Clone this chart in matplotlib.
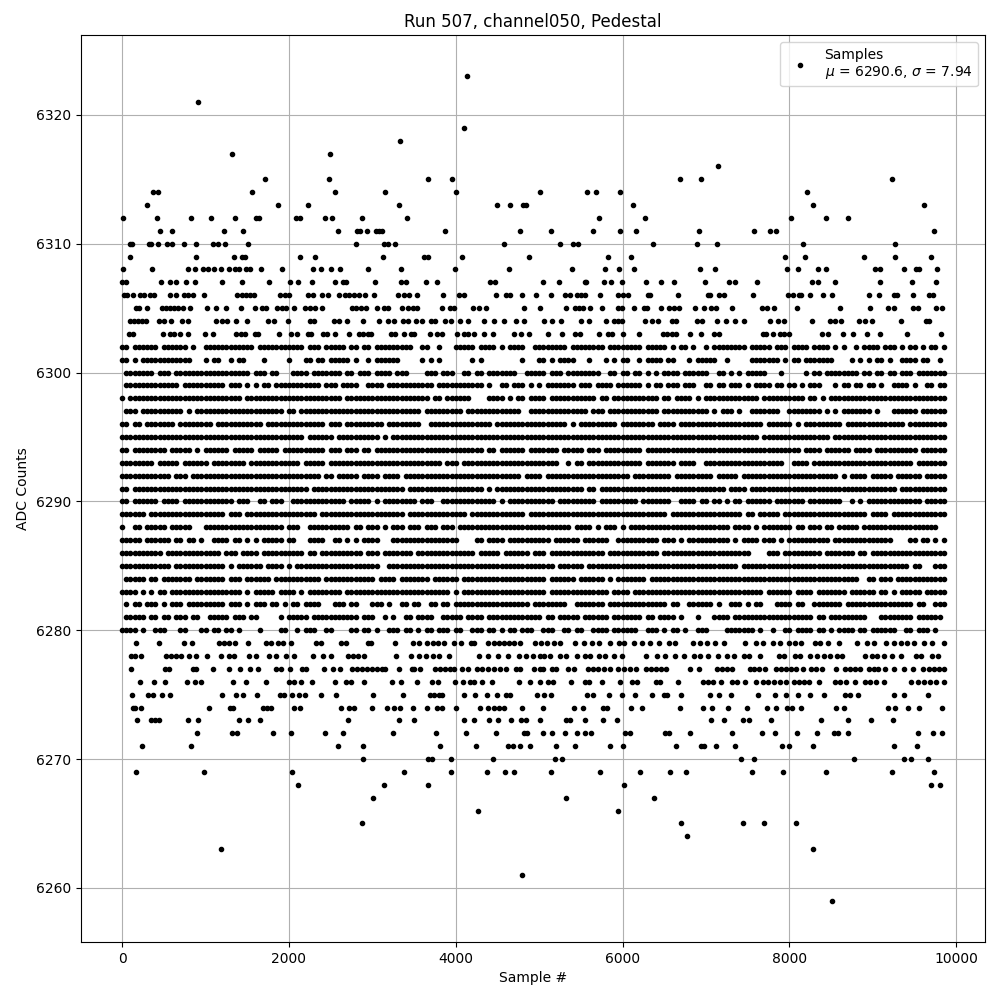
import numpy as np
import matplotlib
matplotlib.use("Agg")
import matplotlib.pyplot as plt

# sparse ADC levels: sample numbers
level_6323 = [4140]
level_6321 = [912]
level_6319 = [4104]
level_6318 = [3336]
level_6317 = [1320, 2496]
level_6316 = [7140]
level_6315 = [1716, 2484, 3672, 3960, 6684, 6936, 9228]
level_6314 = [372, 432, 1560, 2556, 3156, 4008, 5004, 5568, 5676, 5964, 8208]
level_6313 = [300, 1872, 2232, 3324, 4500, 4656, 4812, 4848, 6120, 8280, 9612]
level_6312 = [12, 420, 828, 1068, 1356, 1608, 1644, 2088, 2136, 2436, 2520, 2880, 3420, 5712, 6264, 8016, 8436, 8700]
level_6311 = [456, 600, 1224, 1452, 2592, 2820, 2856, 2940, 3048, 3084, 3120, 3876, 4776, 5136, 5640, 5964, 6156, 6912, 7572, 7764, 7836, 9732]
level_6310 = [96, 120, 324, 348, 432, 540, 600, 744, 888, 1092, 1152, 1236, 1512, 2808, 3144, 3184, 3272, 4584, 5244, 5400, 5460, 6360, 6888, 7128, 8160, 9264]
level_6309 = [96, 888, 1344, 1440, 1476, 2136, 2316, 3132, 3624, 3672, 4080, 4884, 5820, 6096, 7944, 8184, 8892, 9264, 9696]
level_6308 = [12, 360, 792, 876, 972, 1032, 1104, 1188, 1284, 1356, 1404, 1488, 1536, 1668, 1920, 2292, 2388, 2508, 2616, 2952, 3348, 3996, 4644,
              5388, 5784, 5952, 6132, 6924, 7104, 7968, 8100, 8340, 8436, 9024, 9084, 9372, 9516, 9552, 9768]
level_6307 = [0, 48, 468, 576, 648, 768, 876, 1200, 1440, 1764, 2016, 2112, 2280, 2556, 2652, 2688, 3036, 3348, 3404, 3648, 3780, 4416, 4476,
              5040, 5232, 5544, 5564, 5772, 5856, 5988, 6276, 6456, 6612, 6984, 7272, 7344, 7608, 8268, 8340, 8544, 9084, 9468, 9756]
level_6306 = [24, 64, 136, 216, 264, 336, 384, 576, 648, 744, 792, 852, 984, 1380, 1440, 1488, 1536, 1584, 1896, 1956, 2004, 2224, 2292, 2400, 2464,
              2604, 2676, 2724, 2784, 2844, 2916, 3024, 3312, 3384, 3444, 3532, 3852, 4044, 4104, 4488, 4608, 4656, 4796, 4956,
              5136, 5304, 5364, 5448, 5496, 5544, 5724, 5940, 6000, 6060, 6300, 6324, 6660, 7020, 7044, 7152, 7212, 7560, 7980, 8040, 8112, 8136,
              8244, 8400, 8508, 8952, 9072, 9252, 9292, 9480, 9672, 9720]
level_6305 = [164, 204, 300, 480, 528, 576, 624, 672, 732, 816, 1020, 1128, 1248, 1428, 1596, 1680, 1728, 1860, 1920, 1968, 2064, 2196, 2256, 2316, 2400,
              2760, 2808, 2868, 2928, 3060, 3144, 3184, 3360, 3432, 3492, 3540, 3840, 3936, 3984, 4212, 4284, 4368, 4824, 5004,
              5316, 5424, 5472, 5520, 5604, 5748, 5940, 5988, 6132, 6252, 6288, 6456, 6552, 6612, 6672, 6864, 6972, 7056, 7116, 7308, 7668, 7728, 7812,
              8088, 8604, 8964, 9180, 9252, 9480, 9540, 9756, 9828]
level_6304 = [96, 144, 192, 240, 288, 444, 504, 588, 720, 792, 1128, 1200, 1256, 1368, 1500, 1752, 1824, 1992, 2256, 2304, 2544, 2604, 2700, 2892,
              3084, 3192, 3264, 3372, 3424, 3528, 3600, 3708, 3756, 3876, 3948, 4056, 4152, 4344, 4464, 4584, 4728, 4824,
              5052, 5148, 5256, 5496, 5592, 5796, 5892, 5940, 5988, 6264, 6348, 6420, 6588, 6636, 6888, 6948, 7128, 7236, 7344, 7452, 7764, 7860, 7932,
              8268, 8484, 8544, 8616, 8832, 8904, 8988, 9336, 9636, 9672]
level_6303 = [84, 132, 492, 576, 624, 696, 792, 996, 1092, 1368, 1428, 1476, 1596, 1632, 1884, 2028, 2100, 2224, 2268, 2412, 2460, 2556, 2724, 2844, 2892,
              2952, 2988, 3228, 3276, 3384, 3468, 3504, 3696, 3780, 3840, 4020, 4104, 4152, 4224, 4344, 4452, 4704, 4788, 4884,
              5100, 5268, 5424, 5484, 5712, 5820, 5868, 6000, 6192, 6480, 6528, 6588, 6636, 6804, 6936, 7092, 7152, 7680, 7716, 7800, 7884, 7932, 7992,
              8388, 8460, 8640, 8760, 8928, 9084, 9408, 9816]
level_6279 = [168, 444, 744, 844, 1164, 1224, 1284, 1356, 1504, 1724, 1784, 1864, 1932, 2028, 2324, 2384, 2624, 2684, 2944, 2984, 3276, 3484, 3564, 3652,
              3724, 3784, 3864, 3984, 4064, 4184, 4224, 4384, 4464, 4524, 4584, 4644, 4704, 4776, 4944, 5024,
              5092, 5172, 5252, 5424, 5532, 5632, 5712, 5844, 5952, 6012, 6132, 6232, 6332, 6432, 6552, 6632, 6840, 6932, 7012, 7112, 7212, 7464, 7596,
              7680, 7800, 7884, 7992, 8064, 8136, 8312, 8372, 8460, 8592, 8808, 8928, 9012, 9152, 9252, 9332, 9412, 9492, 9612, 9708, 9852]
level_6278 = [104, 152, 224, 524, 584, 644, 704, 804, 888, 1020, 1188, 1284, 1344, 1524, 1604, 1764, 1844, 1964, 2064, 2292, 2404, 2504, 2704, 2764, 2824, 2904,
              3284, 3464, 3564, 3644, 3724, 3804, 3924, 4284, 4384, 4512, 4632, 4764, 4844, 4924, 5004,
              5052, 5132, 5244, 5324, 5452, 5552, 5612, 5712, 5792, 5892, 5992, 6276, 6412, 6512, 6632, 6732, 6852, 6932, 7020, 7140, 7252, 7332, 7452, 7512, 7644,
              7872, 7932, 8072, 8132, 8252, 8332, 8412, 8492, 8572, 8632, 8912, 8992, 9052, 9132, 9232, 9332, 9512, 9580, 9712, 9780]
level_6277 = [108, 516, 564, 852, 888, 1092, 1284, 1416, 1536, 1632, 1848, 1908, 2016, 2160, 2208, 2424, 2532, 2616, 2760, 2820, 2880, 2940, 3000, 3060, 3120, 3156,
              3324, 3480, 3504, 3576, 3756, 3816, 3876, 3936, 3984, 4080, 4152, 4260, 4320, 4392, 4464, 4536, 4608, 4728, 4776, 4932, 5004,
              5040, 5148, 5196, 5340, 5412, 5580, 5640, 5700, 5772, 5844, 5940, 6012, 6084, 6156, 6276, 6336, 6396, 6456, 6516, 6804, 6912, 7128, 7188, 7248, 7308,
              7524, 7572, 7632, 7704, 7836, 7896, 7956, 8016, 8076, 8160, 8256, 8316, 8388, 8556, 8664, 8724, 8784, 8844, 8952, 9012, 9060, 9144, 9252, 9372, 9480,
              9600, 9672, 9732, 9792, 9852]
level_6276 = [216, 384, 516, 780, 876, 948, 1332, 1488, 1728, 2004, 2064, 2148, 2280, 2556, 2688, 2748, 2904, 3240, 3348, 3540, 3720, 3792, 3996, 4092, 4176, 4224,
              4320, 4440, 4764, 4896, 5004, 5100, 5160, 5376, 5544, 5592, 5748, 5964, 6108, 6168, 6396, 6444, 6660, 6960, 7020, 7080, 7176, 7308, 7368, 7464, 7596,
              7680, 7740, 7812, 7884, 7956, 8052, 8112, 8172, 8232, 8352, 8544, 8604, 8676, 8784, 8904, 8964, 9036, 9132, 9456, 9540, 9612, 9684, 9756, 9852]
level_6275 = [120, 312, 372, 480, 576, 1200, 1368, 1452, 1620, 1896, 1944, 2040, 2124, 2196, 2388, 2568, 3012, 3372, 3696, 3744, 3804, 3840, 4104, 4236, 4380, 4496,
              4608, 4656, 4968, 5052, 5136, 5568, 5640, 5832, 5988, 6144, 6348, 6492, 6528, 6696, 7044, 7152, 7296, 7620, 7824, 7956, 8100, 8244, 8412, 8664, 8724,
              8820, 9252, 9372, 9660]
level_6274 = [132, 156, 228, 1044, 1296, 1332, 1692, 1740, 1788, 2064, 2136, 2628, 2724, 2784, 3000, 3180, 3264, 3336, 3492, 3660, 3780, 3840, 4008, 4296, 4392,
              4464, 4524, 4584, 4800, 5040, 5412, 5520, 5760, 5808, 6096, 6228, 6684, 6960, 7068, 7260, 7488, 7728, 7836, 7968, 8028, 8136, 8556, 8652, 9180, 9264,
              9420, 9552, 9828]
level_6273 = [180, 348, 396, 444, 792, 912, 1404, 1512, 1656, 2712, 3324, 3504, 4104, 4224, 4404, 4512, 4668, 4788, 4848, 5004, 5316, 5364, 5544, 5760, 5928,
              7056, 7212, 7440, 7512, 7776, 8376, 8700, 8976, 9240]
level_6272 = [900, 1320, 1380, 1812, 2028, 2436, 2652, 3252, 3768, 4128, 4488, 4824, 4860, 5040, 5148, 5304, 5448, 5544, 5616, 6024, 6084, 6504, 6552, 6804,
              7308, 7668, 7824, 8088, 8328, 8532, 8580, 8700, 9540, 9720, 9828]
level_6271 = [240, 828, 2592, 2892, 3816, 4248, 4632, 4692, 4776, 4896, 5196, 5424, 5844, 6000, 6636, 6936, 6972, 7116, 7344, 7908, 7992, 8280, 9252, 9528]
level_6270 = [2892, 3672, 3720, 3948, 4452, 5184, 5268, 7416, 7572, 8772, 9372, 9456, 9660]
level_6269 = [168, 984, 2040, 3384, 3948, 4380, 4596, 4704, 5136, 5724, 6204, 6564, 6756, 7548, 7920, 8436, 9228, 9732]
level_6268 = [2112, 3144, 3672, 6012, 9696, 9804]
level_6267 = [3012, 5316, 6372]
level_6266 = [4272, 5940]
level_6265 = [2880, 6696, 7440, 7692, 8076]
level_6264 = [6768]
level_6263 = [1188, 8280]
level_6261 = [4800]
level_6259 = [8508]

sparse_levels = [
    (6323, level_6323), (6321, level_6321), (6319, level_6319), (6318, level_6318), (6317, level_6317),
    (6316, level_6316), (6315, level_6315), (6314, level_6314), (6313, level_6313), (6312, level_6312),
    (6311, level_6311), (6310, level_6310), (6309, level_6309), (6308, level_6308), (6307, level_6307),
    (6306, level_6306), (6305, level_6305), (6304, level_6304), (6303, level_6303), (6279, level_6279),
    (6278, level_6278), (6277, level_6277), (6276, level_6276), (6275, level_6275), (6274, level_6274),
    (6273, level_6273), (6272, level_6272), (6271, level_6271), (6270, level_6270), (6269, level_6269),
    (6268, level_6268), (6267, level_6267), (6266, level_6266), (6265, level_6265), (6264, level_6264),
    (6263, level_6263), (6261, level_6261), (6259, level_6259),
]

# dense levels: one group per 1000 samples, one character per 50 samples, # = a dot seen there
row_6302 = "##.######.######.#.. ############.####### ####.###.#####.##.## .#########..##..#... #####.####.#.####..# #######.########.### #####.#####.#.##.#.. #.########.#####.### .####.####.#.#..#.## ##.###.#.##.#.##.#"
row_6301 = "##.#.############... #.##..#.##....#..... #...##.##.#####.#..# .######.....#.#.#... ....#.#.........#... ##.#.####...#...#.#. ##..#.####.##...#.## ###..#.....#######.# .##.#######....#.#.# .##.#..####.##..#"
row_6300 = ".#######.###.####### ###########.###.##.. .####.#######.##.### .####.###....###.### ..##.##.#######..### ##.###.########..##. ##.##.#.#.####.##### #..##.#.#.#####...#. ....#.##.########.## .##.##.###.#######"
row_6299 = ".#############.##### #####.###.#.#.##.### ########.###.####..# ###.###########.#### #######.#..##.###.#. #.#######.###.####.# #####.#.##.###.###.. ##.##.###.#.####.##. ##.#.###...#.##.##.# #.#..####.#..##.##"
row_6298 = "#.################## #########.########## #############.###### ##############.##.## ####....####.#.##.## ##.###########.##.## #########.##.####.#. #############.###### ####.##.#.########## ##################"
row_6297 = ".###.##########.#.## ###################. ##.################# ############.####### ##.#############..## ############.###.### #########.########## #.#.###.#..#######.. ########.#.#.####### .#...######.######"
row_6296 = "##.##.#######.###### ##.###########.##### #########.###.###### ###.########..###### #########.########## #######.#.#########. ########.####.###### ##############.##### #.#.#########.###### ########.#########"
row_6295 = "#################### #################### ####.######.######## ##.#.############### #################### #################### #################### #############.###### ##########.######### ##################"
row_6294 = "##.########.#####.#. ######.#####.#####.# #########.###.###.## .################### #######.##.######.## #####.#####.###.#### #####.############## #################### ###.####.######.#### .##########.######"
row_6293 = "########.#####.##### #.########.######### ###.#####.########## #################.## #.################## #####..#.##.######## #####.#######.####.. ###################. .####.############## ##########.#######"
row_6292 = "############.###.### #################### ########.##.#####.## ##.####.############ ################.### #.################## ##.#########.####### ##.#####.########### ############.#.####. #####.######.#####"
row_6291 = "##.################# #################### #####.############## ########.########### #######.#.########## ###########.##.##### #################### #####.####.######### #################### ######.###########"
row_6290 = "##.######.####.##### #######.###..##.###. .#############.##### .#.########.###..### ##########.#.####### ####.#########.##### ####.#######..####.# #.##.#.##.######.### ####.########..#.#.# ############.#####"
row_6289 = "######.############# #####.###.########## #######.############ ########.########### ###.#############.## #################### ###########.######## #########.##.#####.# ###################. ####.#############"
row_6288 = "#..##.#####.#####... ###################. ###..##########.##.# ##.#.###.###.###.### .################### ########.####.#.###. #.################## ######.####.#.###### #.##.###.##.#####.## ################"
row_6287 = "#####.######.##.##.# ..####.##.#.#.#####. ##...####..##.#.#.## ##...############### #....##.####.####### ###.######.######..# #########.###.#.#### ######.#.####.###.#. ##########.######### #####....##.##.#.#"
row_6286 = "##########.######### ####.###.####.###### ####.##.##########.# ##.#######.######### #####.#####.######.# ##.#############.### #########.########## ###########....###.# ########.#######.##. ##################"
row_6285 = "############.####### #####.#.######.####. #.################## ##..################ #################### ####.######.######## #################### ########.########### #################### #########.##...###"
row_6284 = ".#####.##.#######.## #####.###.######.### ########.########### #.####.#######.##### #.################## ##.######.######.#.# ######.############# #################### #################..# #.###.############"
row_6283 = "####.#.#.##.######## #########.#.#####.## ##.#.########.###### ###################. #.################## ##.##############.## ##.################# ##############.##### #.####.#######.##### #.##.#.#####.#####"
row_6282 = ".#.##.###.#.###.#### #####.###.#.###.##.# .##.####...###.##... ###.#..##.##..##.##. ##################.# #######..#######.### ###########.##..#### ##.#..###.#.##...### #.##..#######.###### ##########.##..###"
row_6281 = ".#####.##.##.###.##. .#####.###.##.....#. #####.###########.## #..#.#..##.####..### ##.####.############ #.##.#####.######.## #####.##.####.#...#. ..####.############# ######.##.#########. ..########.######"
row_6280 = "####.#..###...##...# #.##.##.#....#....## ..#.###..##....##.## .#..###.##.#.##.###. ##..###.##.#.##.###. .###..##.##..####.## ####..###.#.##.#..## #....#######.#..#..# #.####.##.#.####.##. ######..##.###.#"

dense_levels = [
    (6302, row_6302), (6301, row_6301), (6300, row_6300), (6299, row_6299), (6298, row_6298), (6297, row_6297),
    (6296, row_6296), (6295, row_6295), (6294, row_6294), (6293, row_6293), (6292, row_6292), (6291, row_6291),
    (6290, row_6290), (6289, row_6289), (6288, row_6288), (6287, row_6287), (6286, row_6286), (6285, row_6285),
    (6284, row_6284), (6283, row_6283), (6282, row_6282), (6281, row_6281), (6280, row_6280),
]

legend_text = "Samples\n$\\mu$ = 6290.6, $\\sigma$ = 7.94"

samples = []
counts = []
for level, xs in sparse_levels:
    for x in xs:
        samples.append(x)
        counts.append(level)
for level, row in dense_levels:
    for k, group in enumerate(row.split()):
        for j, c in enumerate(group):
            if c == "#":
                samples.append(k * 1000 + j * 50)
                counts.append(level)

fig, ax = plt.subplots(figsize=(10, 10), dpi=100)
ax.plot(np.array(samples), np.array(counts), "k.", label=legend_text)
ax.set_title("Run 507, channel050, Pedestal")
ax.set_xlabel("Sample #")
ax.set_ylabel("ADC Counts")
ax.grid(True)
ax.legend(loc="upper right")
ax.ticklabel_format(useOffset=False, style="plain")
fig.subplots_adjust(left=0.081, right=0.985, top=0.965, bottom=0.058)
fig.savefig("out.png", dpi=100)
